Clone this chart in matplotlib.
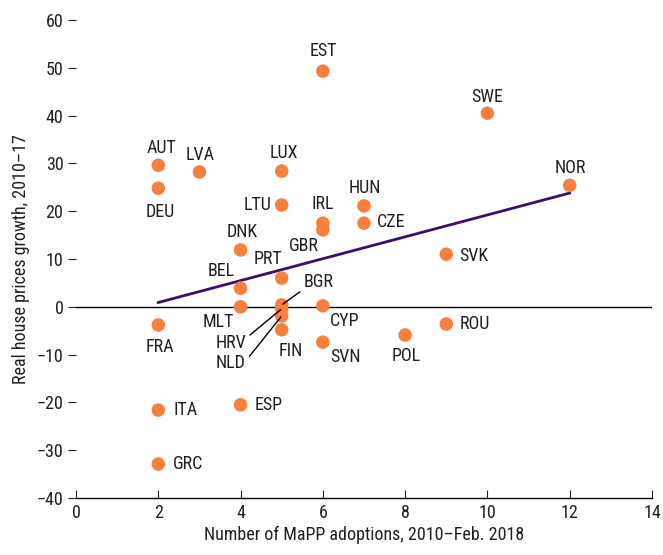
import matplotlib
matplotlib.use("Agg")
import matplotlib.pyplot as plt

plt.rcParams['font.family'] = ['Roboto Condensed', 'DejaVu Sans']

countries = ["EST", "SWE", "NOR", "AUT", "DEU", "LVA", "LUX", "LTU", "IRL", "GBR",
             "HUN", "CZE", "DNK", "SVK", "BEL", "PRT", "BGR", "MLT", "CYP", "HRV",
             "NLD", "FIN", "SVN", "POL", "ROU", "FRA", "ITA", "ESP", "GRC"]
mapp = [6, 10, 12, 2, 2, 3, 5, 5, 6, 6,
        7, 7, 4, 9, 4, 5, 5, 4, 6, 5,
        5, 5, 6, 8, 9, 2, 2, 4, 2]
growth = [49.3, 40.5, 25.4, 29.6, 24.8, 28.2, 28.4, 21.3, 17.5, 16.1,
          21.1, 17.5, 11.9, 11.0, 3.9, 6.0, 0.4, 0.0, 0.2, -0.4,
          -1.9, -4.8, -7.4, -5.9, -3.6, -3.8, -21.6, -20.5, -32.9]

# fitted line end points
fit_x = [2, 12]
fit_y = [0.9, 23.8]

# label offsets in pixels (dx, dy) relative to the dot
offsets = {
    "EST": (0, 20), "SWE": (0, 16), "NOR": (1, 17), "AUT": (3, 17), "DEU": (2, -24),
    "LVA": (1, 17), "LUX": (2, 18), "LTU": (-24, 0), "IRL": (0, 19), "GBR": (-19, -16),
    "HUN": (1, 18), "CZE": (27, 1), "DNK": (2, 18), "SVK": (28, -2), "BEL": (-19, 17),
    "PRT": (-14, 19), "MLT": (-22, -15), "CYP": (22, -15), "FIN": (9, -21),
    "SVN": (23, -15), "POL": (1, -21), "ROU": (29, 0), "FRA": (2, -22),
    "ITA": (27, 0), "ESP": (28, 0), "GRC": (30, 0),
}
# labels with leader lines: label centre offset in pixels, leader start on label
leaders = {"BGR": ((37, 23), (0.0, 0.1)),
           "HRV": ((-51, -34), (1.0, 0.75)),
           "NLD": ((-51, -47), (1.0, 0.6))}

ORANGE = "#F97F3F"
PURPLE = "#3D0E6E"
TEXT = "#231F20"
FS = 13

fig = plt.figure(figsize=(6.63, 5.55), dpi=100)
ax = fig.add_axes([76 / 663, 57 / 555, 576 / 663, 478 / 555])

ax.axhline(0, color="black", lw=1, zorder=1)
ax.plot(fit_x, fit_y, color=PURPLE, lw=2, zorder=2)
ax.scatter(mapp, growth, s=95, color=ORANGE, edgecolor="none", zorder=3)

for c, x, y in zip(countries, mapp, growth):
    if c in offsets:
        ax.annotate(c, (x, y), xytext=offsets[c], textcoords="offset pixels",
                    ha="center", va="center", fontsize=FS, color=TEXT)
    else:
        off, rel = leaders[c]
        ax.annotate(c, (x, y), xytext=off, textcoords="offset pixels",
                    ha="center", va="center", fontsize=FS, color=TEXT,
                    arrowprops=dict(arrowstyle="-", color="black", lw=1,
                                    relpos=rel, shrinkA=1, shrinkB=1),
                    zorder=4)

ax.set_xlim(0, 14)
ax.set_ylim(-40, 60)
ax.set_xticks(range(0, 15, 2))
ax.set_yticks(range(-40, 61, 10))
for s in ["top", "right", "left"]:
    ax.spines[s].set_visible(False)
ax.spines["bottom"].set_linewidth(1)
ax.tick_params(axis="x", direction="in", length=6, labelsize=FS, pad=4, colors=TEXT)
ax.tick_params(axis="y", direction="out", length=6, labelsize=FS, pad=3, colors=TEXT)
ax.set_xlabel("Number of MaPP adoptions, 2010\u2013Feb. 2018", fontsize=FS,
              labelpad=3, color=TEXT)
ax.set_ylabel("Real house prices growth, 2010\u201317", fontsize=FS,
              labelpad=5, color=TEXT)

fig.savefig("out.png", dpi=100)
